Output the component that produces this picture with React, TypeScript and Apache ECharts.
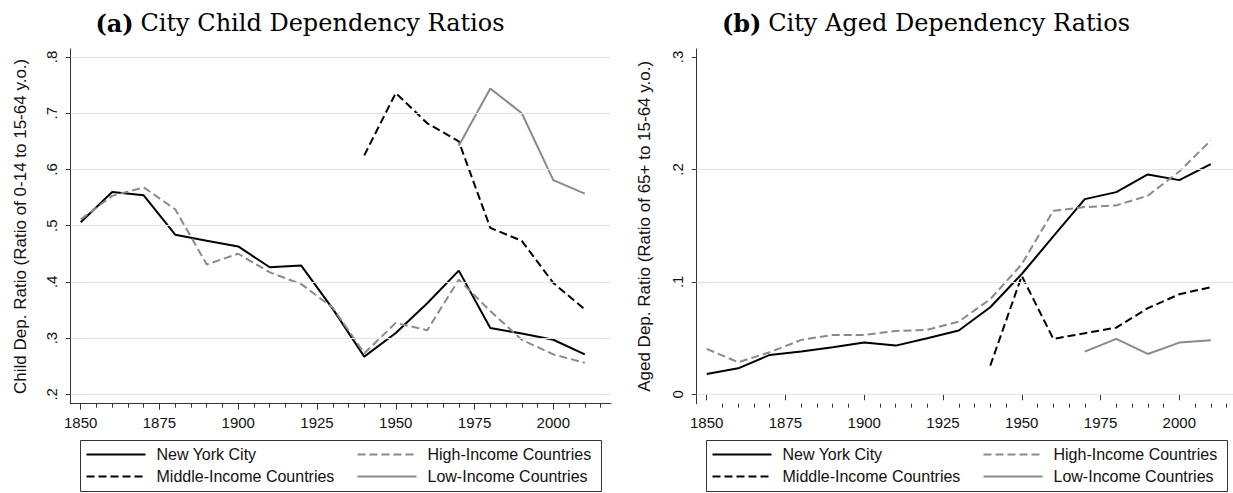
import React, { useEffect, useRef } from "react";
import * as echarts from "echarts";

const years = [1850, 1860, 1870, 1880, 1890, 1900, 1910, 1920, 1930, 1940, 1950, 1960, 1970, 1980, 1990, 2000, 2010];

const nycChild = [0.506, 0.56, 0.554, 0.484, 0.473, 0.463, 0.426, 0.429, 0.352, 0.267, 0.309, 0.362, 0.42, 0.318, 0.308, 0.297, 0.271];
const highChild = [0.511, 0.553, 0.568, 0.529, 0.431, 0.45, 0.417, 0.396, 0.354, 0.273, 0.327, 0.314, 0.404, 0.348, 0.297, 0.271, 0.256];
const midChild = [null, null, null, null, null, null, null, null, null, 0.625, 0.736, 0.682, 0.65, 0.496, 0.473, 0.398, 0.351];
const lowChild = [null, null, null, null, null, null, null, null, null, null, null, null, 0.642, 0.744, 0.7, 0.581, 0.557];

const nycAged = [0.0181, 0.0231, 0.035, 0.038, 0.0418, 0.046, 0.0433, 0.0499, 0.0567, 0.0774, 0.107, 0.1404, 0.1736, 0.1798, 0.1955, 0.1905, 0.2047];
const highAged = [0.0404, 0.0285, 0.0374, 0.0484, 0.0528, 0.0528, 0.0564, 0.0573, 0.0647, 0.0846, 0.1157, 0.1632, 0.1665, 0.168, 0.1766, 0.1982, 0.2258];
const midAged = [null, null, null, null, null, null, null, null, null, 0.0255, 0.1053, 0.0493, 0.0543, 0.0593, 0.0766, 0.089, 0.0953];
const lowAged = [null, null, null, null, null, null, null, null, null, null, null, null, 0.038, 0.0493, 0.0359, 0.046, 0.048];

const seriesNames = ["New York City", "High-Income Countries", "Middle-Income Countries", "Low-Income Countries"];

const xLabelYears = [1850, 1875, 1900, 1925, 1950, 1975, 2000];
const xMinorYears = [1855, 1860, 1865, 1870, 1880, 1885, 1890, 1895, 1905, 1910, 1915, 1920, 1930, 1935, 1940, 1945, 1955, 1960, 1965, 1970, 1980, 1985, 1990, 1995, 2005, 2010, 2015];
const childTicks = [0.2, 0.3, 0.4, 0.5, 0.6, 0.7, 0.8];
const agedTicks = [0, 0.1, 0.2, 0.3];
const agedGrid = [0, 0.1, 0.2];

const titles = ["City Child Dependency Ratios", "City Aged Dependency Ratios"];
const yNames = ["Child Dep. Ratio (Ratio of 0-14 to 15-64 y.o.)", "Aged Dep. Ratio (Ratio of 65+ to 15-64 y.o.)"];

const BLACK = "#000000";
const GRAY = "#8a8a8a";
const GRID = "#dbe8e9";
const AXIS = "#333333";
const SANS = "Liberation Sans, Arial, sans-serif";
const SERIF = "DejaVu Serif, serif";

const styles = [
  { color: BLACK, type: "solid" },
  { color: GRAY, type: [8, 4] },
  { color: BLACK, type: [8, 4] },
  { color: GRAY, type: "solid" },
];

function pairs(vals: (number | null)[]) {
  const out: number[][] = [];
  vals.forEach((v, i) => {
    if (v !== null) out.push([years[i], v]);
  });
  return out;
}

function fmt(v: number) {
  if (Math.abs(v) < 1e-9) return "0";
  return v.toFixed(1).replace(/^0/, "");
}

function legendGroup(x0: number, y0: number) {
  const children: any[] = [];
  children.push({
    type: "rect",
    shape: { x: x0, y: y0, width: 521, height: 51 },
    style: { fill: "#ffffff", stroke: AXIS, lineWidth: 1 },
  });
  const cols = [6, 277];
  const rows = [14, 36];
  seriesNames.forEach((name, i) => {
    const order = [0, 2, 1, 3];
    const k = order.indexOf(i);
    const col = k < 2 ? 0 : 1;
    const row = k % 2;
    const lx = x0 + cols[col];
    const ly = y0 + rows[row];
    const st = styles[i];
    children.push({
      type: "line",
      shape: { x1: lx, y1: ly, x2: lx + 59, y2: ly },
      style: { stroke: st.color, lineWidth: 2, lineDash: st.type === "solid" ? null : st.type },
    });
    children.push({
      type: "text",
      x: lx + 70,
      y: ly,
      style: { text: name, font: `16px ${SANS}`, fill: "#111", textVerticalAlign: "middle", textAlign: "left" },
    });
  });
  return children;
}

export default function App() {
  const ref = useRef<HTMLDivElement>(null);
  useEffect(() => {
    const chart = echarts.init(ref.current as HTMLDivElement, null, { renderer: "svg" });

    const gridTop = 49;
    const gridH = 354.7;
    const pxPerYear = 3.1507;
    const xMin = 1850 - 10 / pxPerYear;
    const grids = [
      { left: 70.7, top: gridTop, width: 540.3, height: gridH },
      { left: 696.7, top: gridTop, width: 536.3, height: gridH },
    ];
    const xMaxes = grids.map((g) => xMin + g.width / pxPerYear);

    const xAxes: any[] = [];
    grids.forEach((g, gi) => {
      xAxes.push({
        type: "value",
        gridIndex: gi,
        position: "bottom",
        min: xMin,
        max: xMaxes[gi],
        axisLine: { show: true, lineStyle: { color: AXIS, width: 1 } },
        axisTick: { show: true, length: 6, customValues: xLabelYears, lineStyle: { color: AXIS } },
        axisLabel: { show: true, customValues: xLabelYears, margin: 11, fontSize: 15, fontFamily: SANS, color: "#111", formatter: (v: number) => String(Math.round(v)) },
        splitLine: { show: false },
      });
      xAxes.push({
        type: "value",
        gridIndex: gi,
        position: "bottom",
        min: xMin,
        max: xMaxes[gi],
        axisLine: { show: false },
        axisTick: { show: true, length: 4, customValues: xMinorYears, lineStyle: { color: AXIS } },
        axisLabel: { show: false },
        splitLine: { show: false },
      });
    });

    const childPer = (394.3 - 57) / 0.6;
    const agedPer = (394.3 - 57) / 0.3;
    const yAxes: any[] = [
      {
        type: "value",
        gridIndex: 0,
        min: 0.2 - (403.7 - 394.3) / childPer,
        max: 0.2 + (394.3 - gridTop) / childPer,
        axisLine: { show: true, lineStyle: { color: AXIS, width: 1 } },
        axisTick: { show: true, length: 5, customValues: childTicks, lineStyle: { color: AXIS } },
        axisLabel: { show: true, customValues: childTicks, rotate: 90, margin: 12, fontSize: 15, fontFamily: SANS, color: "#111", formatter: fmt },
        splitLine: { show: false },
        name: yNames[0],
        nameLocation: "middle",
        nameRotate: 90,
        nameGap: 42,
        nameTextStyle: { fontSize: 17, fontFamily: SANS, color: "#111" },
      },
      {
        type: "value",
        gridIndex: 1,
        min: 0 - (403.7 - 394.3) / agedPer,
        max: 0 + (394.3 - gridTop) / agedPer,
        axisLine: { show: true, lineStyle: { color: AXIS, width: 1 } },
        axisTick: { show: true, length: 5, customValues: agedTicks, lineStyle: { color: AXIS } },
        axisLabel: { show: true, customValues: agedTicks, rotate: 90, margin: 12, fontSize: 15, fontFamily: SANS, color: "#111", formatter: fmt },
        splitLine: { show: false },
        name: yNames[1],
        nameLocation: "middle",
        nameRotate: 90,
        nameGap: 44,
        nameTextStyle: { fontSize: 17, fontFamily: SANS, color: "#111" },
      },
    ];

    const childData = [nycChild, highChild, midChild, lowChild];
    const agedData = [nycAged, highAged, midAged, lowAged];

    const series: any[] = [];
    series.push({
      type: "line",
      xAxisIndex: 0,
      yAxisIndex: 0,
      data: [],
      z: 1,
      silent: true,
      markLine: {
        silent: true,
        symbol: "none",
        label: { show: false },
        lineStyle: { color: GRID, width: 1, type: "solid" },
        data: childTicks.map((v) => ({ yAxis: v })),
      },
    });
    series.push({
      type: "line",
      xAxisIndex: 2,
      yAxisIndex: 1,
      data: [],
      z: 1,
      silent: true,
      markLine: {
        silent: true,
        symbol: "none",
        label: { show: false },
        lineStyle: { color: GRID, width: 1, type: "solid" },
        data: agedGrid.map((v) => ({ yAxis: v })),
      },
    });
    [childData, agedData].forEach((set, gi) => {
      set.forEach((vals, i) => {
        series.push({
          name: seriesNames[i],
          type: "line",
          xAxisIndex: gi * 2,
          yAxisIndex: gi,
          data: pairs(vals),
          showSymbol: false,
          symbol: "none",
          z: 3,
          lineStyle: { color: styles[i].color, width: 2, type: styles[i].type },
          itemStyle: { color: styles[i].color },
        });
      });
    });

    const titleGraphic = (cx: number, letter: string, text: string) => ({
      type: "text",
      x: cx,
      y: 23,
      style: {
        text: `{b|(${letter})}  {n|${text}}`,
        textAlign: "center",
        textVerticalAlign: "middle",
        rich: {
          b: { font: `bold 24px ${SERIF}`, fill: "#000" },
          n: { font: `24px ${SERIF}`, fill: "#000" },
        },
      },
    });

    chart.setOption({
      animation: false,
      backgroundColor: "#ffffff",
      grid: grids,
      xAxis: xAxes,
      yAxis: yAxes,
      series,
      graphic: [
        titleGraphic(300, "a", titles[0]),
        titleGraphic(926, "b", titles[1]),
        ...legendGroup(80.5, 440.5),
        ...legendGroup(706.5, 440.5),
      ],
    });
    return () => chart.dispose();
  }, []);
  return <div ref={ref} style={{ position: "fixed", left: 0, top: 0, width: 1233, height: 493 }} />;
}
